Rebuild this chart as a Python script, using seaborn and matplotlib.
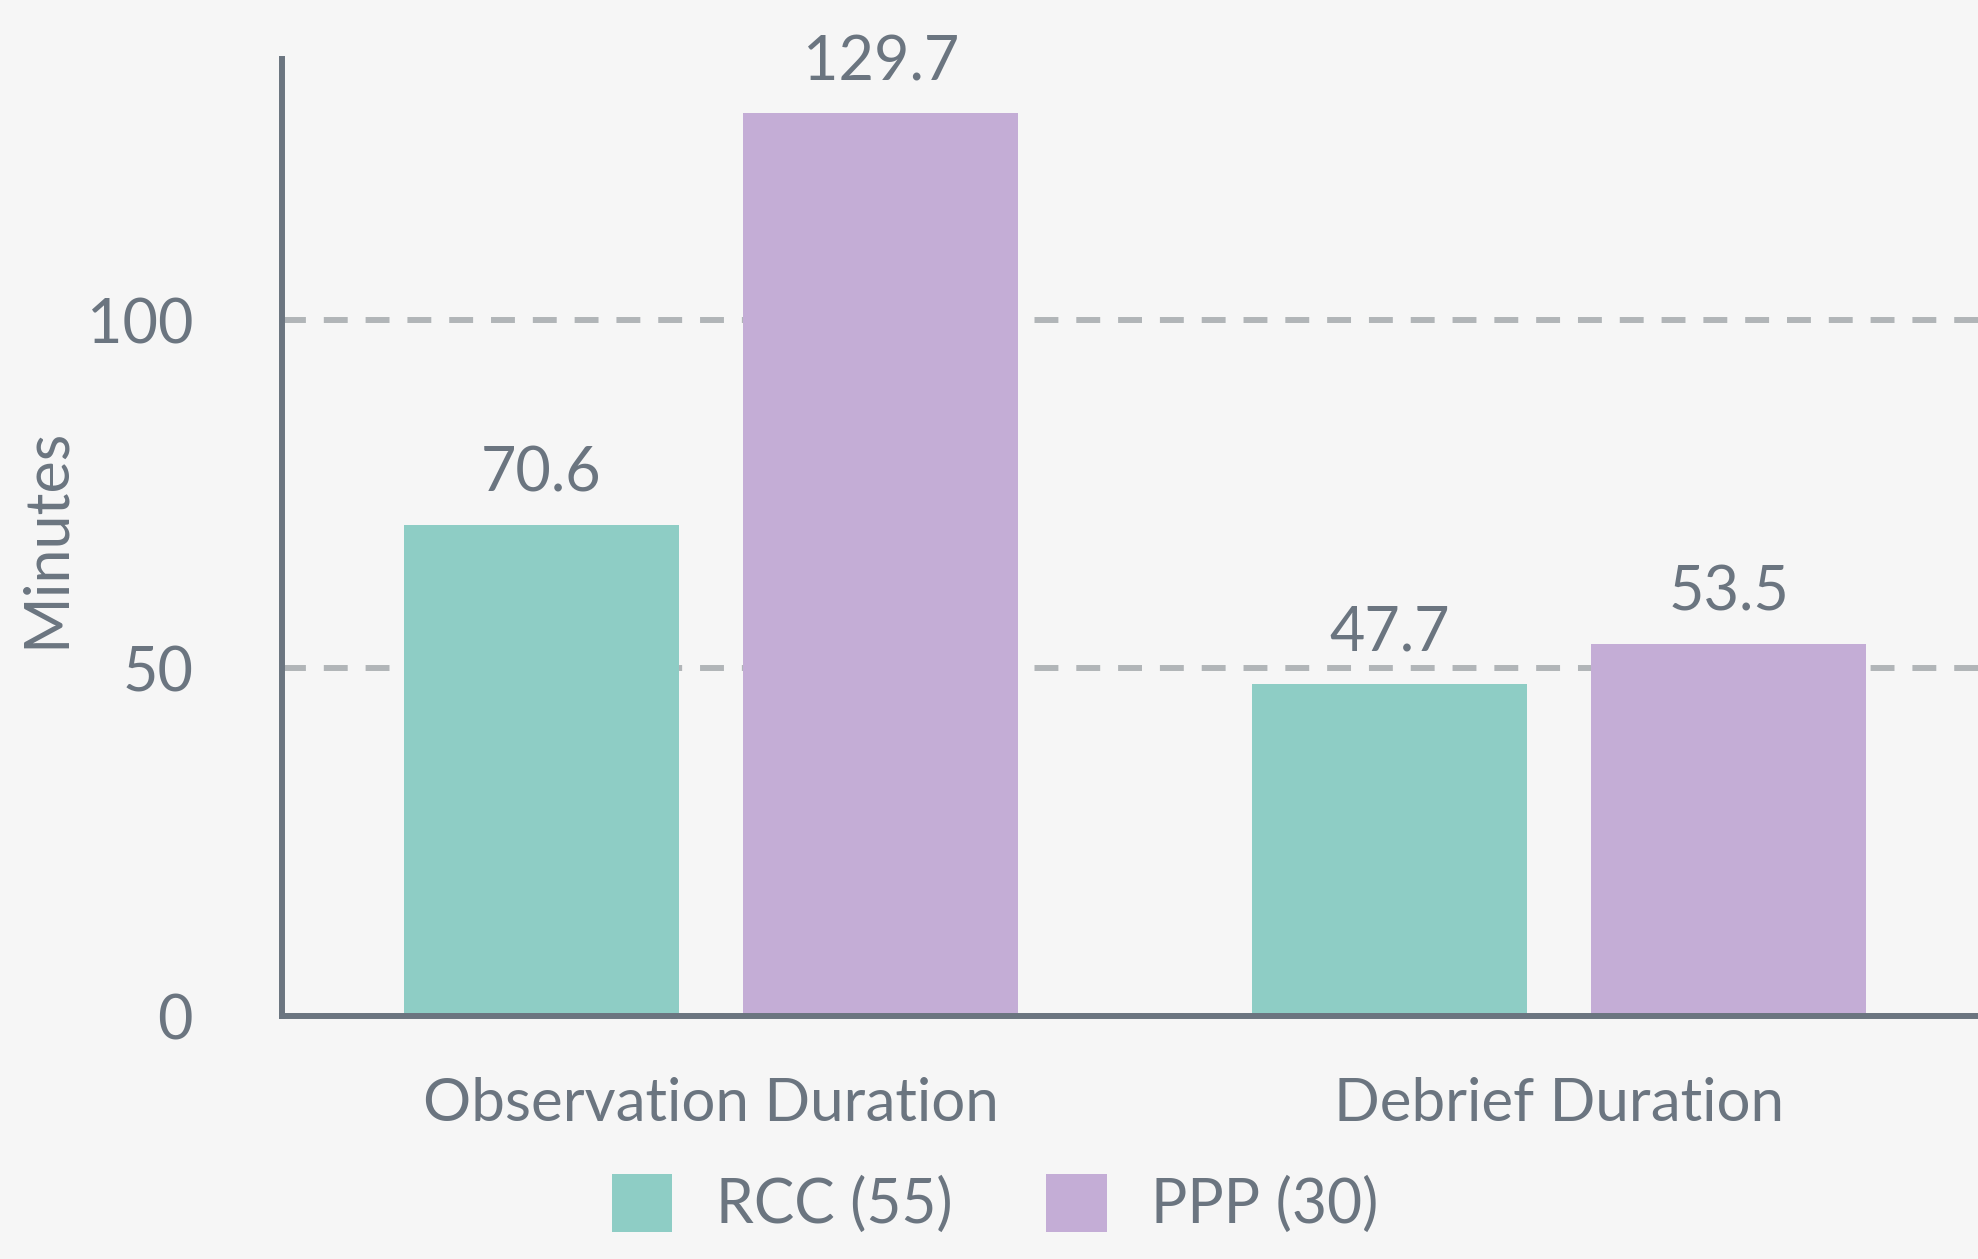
import pandas as pd
import matplotlib.pyplot as plt
import seaborn as sns
from matplotlib.patches import Patch

# data
metrics = ["Observation Duration", "Debrief Duration"]
programs = ["RCC (55)", "PPP (30)"]
rcc_minutes = [70.6, 47.7]
ppp_minutes = [129.7, 53.5]
y_ticks = [0, 50, 100]

grey = "#6b7580"
bg = "#f6f6f6"
palette = {"RCC (55)": "#8ecdc5", "PPP (30)": "#c4add6"}

df = pd.DataFrame({
    "Metric": metrics * 2,
    "Program": [programs[0]] * len(metrics) + [programs[1]] * len(metrics),
    "Minutes": rcc_minutes + ppp_minutes,
})

sns.set_theme(style="white")
plt.rcParams["font.family"] = ["Lato", "DejaVu Sans"]

W, H = 1978, 1259
fig = plt.figure(figsize=(W / 100, H / 100), dpi=100, facecolor=bg)
ax = fig.add_axes([282 / W, (H - 1016) / H, 1 - 282 / W, (1016 - 59) / H])
ax.set_facecolor(bg)

sns.barplot(data=df, x="Metric", y="Minutes", hue="Program",
            order=metrics, hue_order=programs, palette=palette,
            width=0.8, gap=0.19, saturation=1, errorbar=None,
            linewidth=0, edgecolor="none", legend=False, ax=ax)

ax.set_axisbelow(True)
ax.yaxis.grid(True, color="#b1b5b8", lw=4.3, ls=(0, (4, 3)))
ax.xaxis.grid(False)

for side in ["top", "right"]:
    ax.spines[side].set_visible(False)
for side in ["left", "bottom"]:
    ax.spines[side].set_color(grey)
    ax.spines[side].set_linewidth(4.3)

ax.set_ylim(0, 137.5)
ax.set_xlim(-0.506, 1.494)
ax.set_yticks(y_ticks)
ax.tick_params(axis="y", length=0, pad=64, labelsize=44, labelcolor=grey)
ax.tick_params(axis="x", length=0, pad=44, labelsize=43.3, labelcolor=grey)

ax.set_xlabel("")
ax.set_ylabel("Minutes", fontsize=44, color=grey)
ax.yaxis.set_label_coords(-0.122, 0.5)

for container in ax.containers:
    ax.bar_label(container, fmt="%.1f", padding=16, fontsize=44, color=grey)

handles = [Patch(facecolor=palette[p], edgecolor="none", label=p) for p in programs]
fig.legend(handles=handles, loc="center", bbox_to_anchor=(0.503, 0.0437),
           ncol=2, frameon=False, fontsize=43.6, handlelength=1, handleheight=1.1,
           handletextpad=0.72, columnspacing=1.55, labelcolor=grey)

fig.savefig("out.png", dpi=100, facecolor=fig.get_facecolor())
